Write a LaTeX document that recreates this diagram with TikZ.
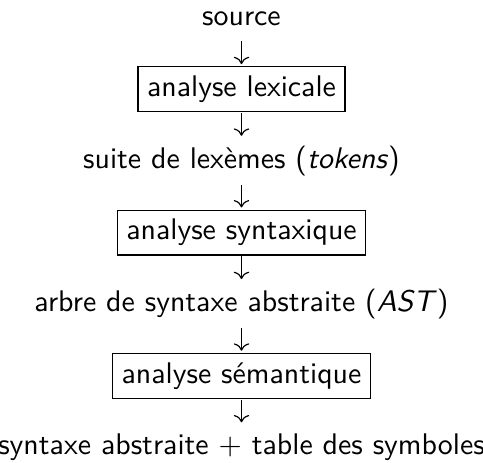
\documentclass[tikz,border=0pt]{standalone}
\usepackage{tikz}
\usetikzlibrary{arrows.meta}

\begin{document}
\begin{tikzpicture}[x=1pt,y=1pt]
	\tikzset{
		etape/.style={inner sep=3pt, text height=7pt, text depth=2pt, font=\sffamily},
		passe/.style={etape, draw, line width=0.4pt},
		fleche/.style={-{Computer Modern Rightarrow}, line width=0.4pt, shorten <=0.3pt, shorten >=0.7pt}
	}
	\useasboundingbox (0,0) rectangle (161.8,-154.8);
	\newcommand{\pas}{24}
	\foreach 
	\i/\boite/\texte
	in
	{
		0/0/source,
		1/1/analyse lexicale,
		2/0/suite de lexèmes (\textit{tokens}),
		3/1/analyse syntaxique,
		4/0/arbre de syntaxe abstraite (\textit{AST}),
		5/1/analyse sémantique,
		6/0/syntaxe abstraite $+$ table des symboles
	}
	{
		\if\boite1
		\node[passe, anchor=base] (r\i) at (80.9, -8.4-\pas*\i) {\texte};
		\else
		\node[etape, anchor=base] (r\i) at (80.9, -8.4-\pas*\i) {\texte};
		\fi
	}
	\foreach \i [evaluate=\i as \j using int(\i+1)] in {0,...,5}
		\draw[fleche] (r\i) -- (r\j);
\end{tikzpicture}
\end{document}
